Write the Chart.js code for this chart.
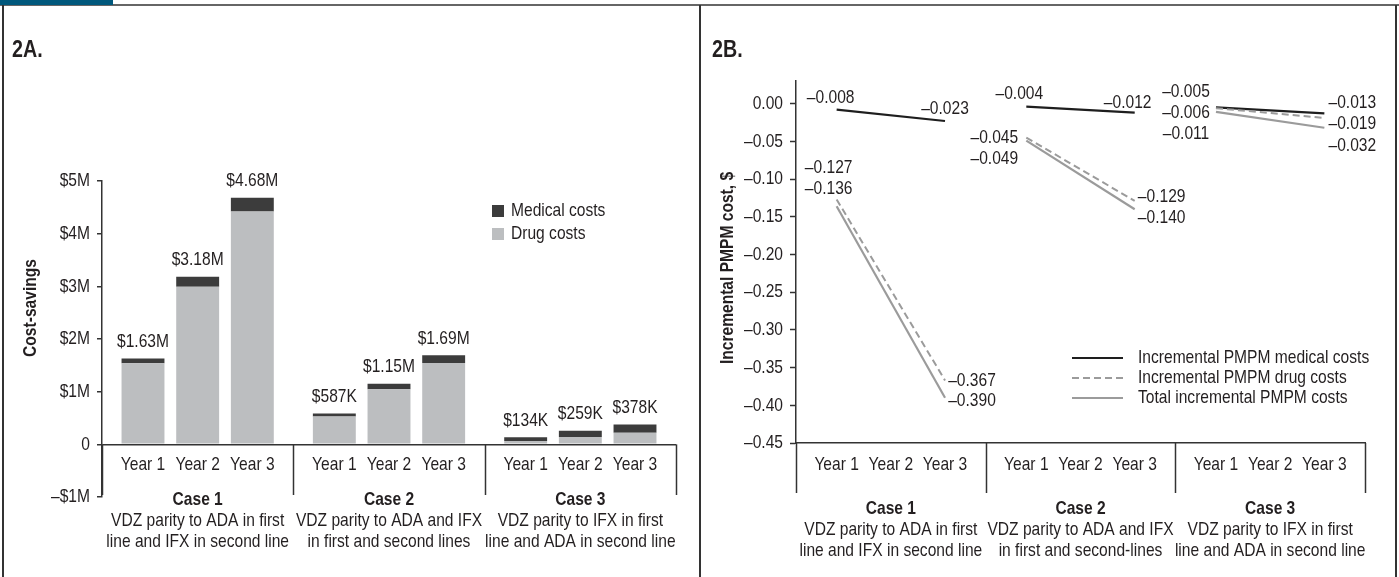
<!DOCTYPE html>
<html><head><meta charset="utf-8">
<script src="https://cdn.jsdelivr.net/npm/chart.js@4.4.1/dist/chart.umd.min.js"></script>
<style>
html,body{margin:0;padding:0;background:#fff;}
#wrap{position:relative;width:1399px;height:577px;overflow:hidden;background:#fff;}
canvas{position:absolute;top:0;}
.f{position:absolute;}
</style></head><body>
<div id="wrap">
<canvas id="cA" width="700" height="577" style="left:0"></canvas>
<canvas id="cB" width="699" height="577" style="left:700px"></canvas>
<div class="f" style="left:0;top:4px;width:1399px;height:2px;background:#666"></div>
<div class="f" style="left:0;top:0;width:113px;height:5px;background:#00587c"></div>
<div class="f" style="left:2px;top:5px;width:2px;height:572px;background:#333"></div>
<div class="f" style="left:699px;top:5px;width:2px;height:572px;background:#333"></div>
<div class="f" style="left:1395px;top:5px;width:2px;height:572px;background:#333"></div>
</div>
<script>
// ---------- data ----------
const cases = ['Case 1', 'Case 2', 'Case 3'];
const caseTextA = [['VDZ parity to ADA in first', 'line and IFX in second line'],
                   ['VDZ parity to ADA and IFX', 'in first and second lines'],
                   ['VDZ parity to IFX in first', 'line and ADA in second line']];
const caseTextB = [['VDZ parity to ADA in first', 'line and IFX in second line'],
                   ['VDZ parity to ADA and IFX', 'in first and second-lines'],
                   ['VDZ parity to IFX in first', 'line and ADA in second line']];
const years = ['Year 1', 'Year 2', 'Year 3'];

// Panel 2A: cost-savings, $ millions, per case per year
const drugCosts    = [[1.54, 2.99, 4.42], [0.53, 1.045, 1.545], [0.063, 0.14, 0.22]];
const medicalCosts = [[0.09, 0.19, 0.26], [0.057, 0.105, 0.145], [0.071, 0.119, 0.158]];
const totalLabels  = [['$1.63M', '$3.18M', '$4.68M'], ['$587K', '$1.15M', '$1.69M'], ['$134K', '$259K', '$378K']];
const yTicksA      = [-1, 0, 1, 2, 3, 4, 5];
const yTickLabelsA = ['\u2013$1M', '0', '$1M', '$2M', '$3M', '$4M', '$5M'];

// Panel 2B: incremental PMPM cost, $ (Year 1, Year 3) per case
const pmpmYears   = [0, 2];
const medicalPMPM = [[-0.008, -0.023], [-0.004, -0.012], [-0.005, -0.013]];
const drugPMPM    = [[-0.127, -0.367], [-0.045, -0.129], [-0.006, -0.019]];
const totalPMPM   = [[-0.136, -0.390], [-0.049, -0.140], [-0.011, -0.032]];
const yTicksB     = [0, -0.05, -0.10, -0.15, -0.20, -0.25, -0.30, -0.35, -0.40, -0.45];
const seriesNamesB = ['Incremental PMPM medical costs', 'Incremental PMPM drug costs', 'Total incremental PMPM costs'];

// ---------- layout helpers ----------
const FONT = "'Liberation Sans', Arial, sans-serif";
const SX = 0.82;           // horizontal condensing (narrow type)
const FS = 19;
const TXT = '#231f20';
const SLOTS = 7, YEAR_SLOT = [1, 3, 5];
const N = cases.length * SLOTS;
const xLabels = [];
cases.forEach(() => { for (let s = 0; s < SLOTS; s++) { const y = YEAR_SLOT.indexOf(s); xLabels.push(y >= 0 ? years[y] : ''); } });
function spread(rows) {
  const a = new Array(N).fill(null);
  rows.forEach((r, c) => r.forEach((v, y) => { a[c * SLOTS + YEAR_SLOT[y]] = v; }));
  return a;
}
function lineData(rows, c) {
  const a = new Array(N).fill(null);
  rows[c].forEach((v, k) => { a[c * SLOTS + YEAR_SLOT[pmpmYears[k]]] = v; });
  return a;
}
function txt(ctx, s, x, y, o) {
  o = o || {};
  ctx.save();
  ctx.font = (o.bold ? 'bold ' : '') + (o.size || FS) + 'px ' + FONT;
  ctx.textAlign = o.align || 'center';
  ctx.textBaseline = o.base || 'middle';
  ctx.fillStyle = TXT;
  ctx.translate(x, y);
  if (o.rot) ctx.rotate(o.rot);
  ctx.scale(SX, 1);
  ctx.fillText(s, 0, 0);
  ctx.restore();
}
function drawDividers(ctx, xs, y0, y1) {
  ctx.save(); ctx.strokeStyle = '#333'; ctx.lineWidth = 1.5;
  const half = xs.width / N / 2;
  for (let k = 0; k <= cases.length; k++) {
    const px = Math.round(xs.getPixelForValue(k * SLOTS) - half) + 0.5;
    ctx.beginPath(); ctx.moveTo(px, y0); ctx.lineTo(px, y1); ctx.stroke();
  }
  ctx.restore();
}
function drawXTicks(ctx, xs, y) {
  xLabels.forEach((l, i) => { if (l) txt(ctx, l, xs.getPixelForValue(i), y); });
}
function drawYTicks(ctx, ys, ticks, fmt, gap) {
  ticks.forEach(v => txt(ctx, fmt(v), ys.right - gap, ys.getPixelForValue(v), { align: 'right' }));
}
function drawCaseText(ctx, xs, texts, y0, dy) {
  cases.forEach((c, i) => {
    const cx = xs.getPixelForValue(i * SLOTS + 3);
    txt(ctx, c, cx, y0, { bold: true });
    texts[i].forEach((t, j) => txt(ctx, t, cx, y0 + dy * (j + 1)));
  });
}

// ---------- chart 2A ----------
const pluginA = {
  id: 'decorA',
  afterDraw(chart) {
    const ctx = chart.ctx, xs = chart.scales.x, ys = chart.scales.y;
    txt(ctx, '2A.', 12, 57, { bold: true, size: 24, align: 'left', base: 'alphabetic' });
    txt(ctx, 'Cost-savings', 31, 308, { bold: true, rot: -Math.PI / 2 });
    drawYTicks(ctx, ys, yTicksA, v => yTickLabelsA[yTicksA.indexOf(v)], 12);
    const y0 = ys.getPixelForValue(0);
    drawDividers(ctx, xs, y0, ys.bottom - 2);
    drawXTicks(ctx, xs, 465);
    drawCaseText(ctx, xs, caseTextA, ys.bottom + 3, 21);
    // bar total labels
    const meta = chart.getDatasetMeta(1);
    cases.forEach((c, i) => years.forEach((y, j) => {
      const el = meta.data[i * SLOTS + YEAR_SLOT[j]];
      txt(ctx, totalLabels[i][j], el.x, el.y - 17);
    }));
    // legend
    const lx = chart.chartArea.left + 390, ly = 211;
    [chart.data.datasets[1], chart.data.datasets[0]].forEach((ds, k) => {
      ctx.fillStyle = ds.backgroundColor; ctx.fillRect(lx, ly + k * 23 - 6, 12, 12);
      txt(ctx, ds.label, lx + 19, ly + k * 23, { align: 'left' });
    });
  }
};

new Chart(document.getElementById('cA'), {
  type: 'bar',
  data: {
    labels: xLabels,
    datasets: [
      { label: 'Drug costs', data: spread(drugCosts), backgroundColor: '#bcbec0' },
      { label: 'Medical costs', data: spread(medicalCosts), backgroundColor: '#3c3c3c' }
    ]
  },
  options: {
    responsive: false, animation: false,
    layout: { padding: { left: 0, right: 24, top: 181, bottom: 80 } },
    datasets: { bar: { barPercentage: 1.57, categoryPercentage: 1 } },
    plugins: { legend: { display: false }, tooltip: { enabled: false } },
    scales: {
      x: {
        stacked: true, offset: true,
        grid: { display: false, drawTicks: false },
        border: { display: false },
        ticks: { display: false, autoSkip: false, maxRotation: 0, minRotation: 0 },
        afterFit(s) { s.height = 0; }
      },
      y: {
        stacked: true, min: -1, max: 5,
        afterBuildTicks(ax) { ax.ticks = yTicksA.map(v => ({ value: v })); },
        afterFit(s) { s.width = 102; },
        grid: { drawOnChartArea: true, drawTicks: true, tickLength: 5, tickColor: '#333', tickWidth: 1.5,
                color: c => (c.tick && c.tick.value === 0) ? '#333' : 'rgba(0,0,0,0)', lineWidth: 1.5 },
        border: { display: true, color: '#333', width: 1.5 },
        ticks: { display: false }
      }
    }
  },
  plugins: [pluginA]
});

// ---------- chart 2B ----------
const seriesB = [
  { rows: medicalPMPM, color: '#1e1e1e', dash: [], width: 2.2 },
  { rows: drugPMPM, color: '#9b9b9b', dash: [7, 4], width: 2 },
  { rows: totalPMPM, color: '#9b9b9b', dash: [], width: 2.2 }
];
const datasetsB = [];
[2, 1, 0].forEach(s => cases.forEach((c, i) => {
  datasetsB.push({ label: seriesNamesB[s], series: s, caseIdx: i, data: lineData(seriesB[s].rows, i),
    borderColor: seriesB[s].color, borderDash: seriesB[s].dash, borderWidth: seriesB[s].width,
    pointRadius: 0, spanGaps: true, fill: false, tension: 0 });
}));
// label placement [case][year1|year3][series] -> [dx, dy]
const labelOffsets = [
  [[[-6, -12], [-8, -32], [-8, -17]], [[0, -12], [27, 0], [27, 3]]],
  [[[-7, -13], [-32, 0], [-32, 18]], [[-7, -10], [27, -4], [27, 9]]],
  [[[-30, -16], [-30, 5], [-30, 22]], [[28, -11], [28, 6], [28, 18]]]
];
const pluginB = {
  id: 'decorB',
  afterDraw(chart) {
    const ctx = chart.ctx, xs = chart.scales.x, ys = chart.scales.y;
    txt(ctx, '2B.', 12, 57, { bold: true, size: 24, align: 'left', base: 'alphabetic' });
    txt(ctx, 'Incremental PMPM cost, $', 28, 268, { bold: true, rot: -Math.PI / 2 });
    drawYTicks(ctx, ys, yTicksB, v => v === 0 ? '0.00' : '\u2013' + Math.abs(v).toFixed(2), 13);
    drawDividers(ctx, xs, ys.bottom, ys.bottom + 50);
    drawXTicks(ctx, xs, 465);
    drawCaseText(ctx, xs, caseTextB, ys.bottom + 66, 21);
    chart.data.datasets.forEach((ds, di) => {
      const meta = chart.getDatasetMeta(di);
      pmpmYears.forEach((y, k) => {
        const idx = ds.caseIdx * SLOTS + YEAR_SLOT[y];
        const el = meta.data[idx];
        const v = ds.data[idx];
        const off = labelOffsets[ds.caseIdx][k][ds.series];
        txt(ctx, '\u2013' + Math.abs(v).toFixed(3), el.x + off[0], el.y + off[1]);
      });
    });
    // legend
    const lx = 372, ly = [358, 378, 398];
    seriesB.forEach((s, k) => {
      ctx.save(); ctx.strokeStyle = s.color; ctx.lineWidth = s.width; ctx.setLineDash(s.dash);
      ctx.beginPath(); ctx.moveTo(lx, ly[k]); ctx.lineTo(lx + 51, ly[k]); ctx.stroke(); ctx.restore();
      txt(ctx, seriesNamesB[k], lx + 66, ly[k], { align: 'left' });
    });
  }
};
new Chart(document.getElementById('cB'), {
  type: 'line',
  data: { labels: xLabels, datasets: datasetsB },
  options: {
    responsive: false, animation: false,
    layout: { padding: { left: 0, right: 34, top: 81, bottom: 134 } },
    plugins: { legend: { display: false }, tooltip: { enabled: false } },
    scales: {
      x: {
        offset: true,
        grid: { display: false, drawTicks: false, offset: true },
        border: { display: true, color: '#333', width: 1.5 },
        ticks: { display: false, autoSkip: false, maxRotation: 0, minRotation: 0 },
        afterFit(s) { s.height = 0; }
      },
      y: {
        min: -0.45, max: 0.03,
        afterBuildTicks(ax) { ax.ticks = yTicksB.map(v => ({ value: v })); },
        afterFit(s) { s.width = 96; },
        grid: { drawOnChartArea: false, drawTicks: true, tickLength: 6, tickColor: '#333', tickWidth: 1.5 },
        border: { display: true, color: '#333', width: 1.5 },
        ticks: { display: false }
      }
    }
  },
  plugins: [pluginB]
});
</script>
</body></html>
